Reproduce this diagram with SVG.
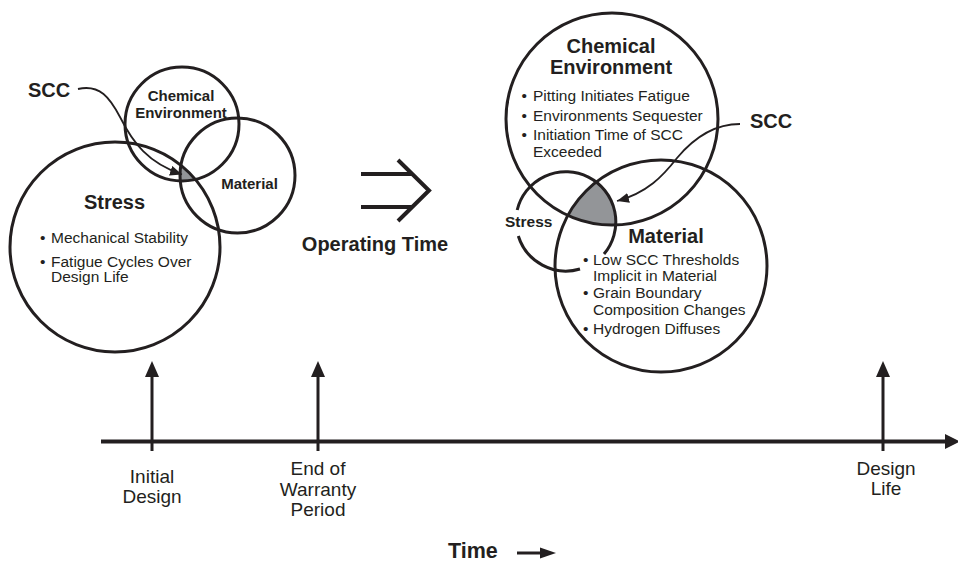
<svg xmlns="http://www.w3.org/2000/svg" width="958" height="563" viewBox="0 0 958 563">
<style>
  .c { fill: none; stroke: #231f20; stroke-width: 3; }
  .t { font-family: "Liberation Sans", Arial, Helvetica, sans-serif; fill: #231f20; }
  .b { font-weight: bold; }
  .m { text-anchor: middle; }
  .sh { fill: #939598; }
  .ln { stroke: #231f20; fill: none; }
  .ah { fill: #231f20; }
</style>
<defs>
  <marker id="sccHead" markerUnits="userSpaceOnUse" markerWidth="14" markerHeight="10" refX="12" refY="5" orient="auto">
    <path d="M0,0 L12,5 L0,10 Z" fill="#231f20"/>
  </marker>
  <clipPath id="clipLChem"><circle cx="182" cy="124" r="57"/></clipPath>
  <clipPath id="clipLMat"><circle cx="237.5" cy="175.5" r="57.5"/></clipPath>
  <clipPath id="clipRChem"><circle cx="612" cy="119" r="106"/></clipPath>
  <clipPath id="clipRMat"><circle cx="661" cy="266" r="106"/></clipPath>
</defs>
<rect width="958" height="563" fill="#ffffff"/>

<!-- Left Venn -->
<g id="left-scc-region" clip-path="url(#clipLChem)">
  <circle class="sh" cx="115" cy="247" r="105" clip-path="url(#clipLMat)"/>
</g>
<g id="left-stress">
  <circle class="c" cx="115" cy="247" r="105"/>
  <text class="t b m" x="114.5" y="209" font-size="20">Stress</text>
  <text class="t" font-size="15.5"><tspan x="40" y="243">•</tspan><tspan x="51" y="243">Mechanical Stability</tspan></text>
  <text class="t" font-size="15.5"><tspan x="40" y="267">•</tspan><tspan x="51" y="267">Fatigue Cycles Over</tspan><tspan x="51" y="282">Design Life</tspan></text>
</g>
<g id="left-chemical">
  <circle class="c" cx="182" cy="124" r="57"/>
  <text class="t b m" x="181" y="101" font-size="15">Chemical</text>
  <text class="t b m" x="181" y="118" font-size="15">Environment</text>
</g>
<g id="left-material">
  <circle class="c" cx="237.5" cy="175.5" r="57.5"/>
  <text class="t b m" x="249.5" y="189" font-size="15">Material</text>
</g>
<g id="left-scc">
  <text class="t b" x="28" y="97" font-size="20">SCC</text>
</g>

<!-- Operating time -->
<g id="operating-time">
  <path class="ln" stroke-width="4" d="M361,174 L413,174 M361,207 L413,207"/>
  <path class="ln" stroke-width="4" d="M398,160 L429,190.5 L398,221"/>
  <text class="t b m" x="375" y="250.5" font-size="20">Operating Time</text>
</g>

<!-- Right Venn -->
<g id="right-scc-region" clip-path="url(#clipRChem)">
  <circle class="sh" cx="566" cy="221" r="50" clip-path="url(#clipRMat)"/>
</g>
<g id="right-chemical">
  <circle class="c" cx="612" cy="119" r="106"/>
  <text class="t b m" x="611" y="53" font-size="20">Chemical</text>
  <text class="t b m" x="611" y="74" font-size="20">Environment</text>
  <text class="t" font-size="15.5"><tspan x="521.5" y="101">•</tspan><tspan x="533" y="101">Pitting Initiates Fatigue</tspan></text>
  <text class="t" font-size="15.5"><tspan x="521.5" y="120.5">•</tspan><tspan x="533" y="120.5">Environments Sequester</tspan></text>
  <text class="t" font-size="15.5"><tspan x="521.5" y="140">•</tspan><tspan x="533" y="140">Initiation Time of SCC</tspan><tspan x="533" y="156.5">Exceeded</tspan></text>
</g>
<g id="right-stress">
  <path class="c" d="M518.3,236 A50,50 0 0 0 580,269 M604,254 A50,50 0 1 0 517.2,210"/>
  <text class="t b" x="505" y="227" font-size="15.5">Stress</text>
</g>
<g id="right-material">
  <circle class="c" cx="661" cy="266" r="106"/>
  <text class="t b m" x="666" y="243" font-size="20">Material</text>
  <text class="t" font-size="15.5"><tspan x="583" y="265">•</tspan><tspan x="593" y="265">Low SCC Thresholds</tspan><tspan x="593" y="280.5">Implicit in Material</tspan></text>
  <text class="t" font-size="15.5"><tspan x="583" y="298">•</tspan><tspan x="593" y="298">Grain Boundary</tspan><tspan x="593" y="314.5">Composition Changes</tspan></text>
  <text class="t" font-size="15.5"><tspan x="583" y="333.5">•</tspan><tspan x="593" y="333.5">Hydrogen Diffuses</tspan></text>
</g>
<g id="right-scc">
  <text class="t b" x="750" y="128" font-size="20">SCC</text>
</g>

<!-- Timeline labels -->
<g id="tick-initial-design">
  <text class="t m" font-size="19"><tspan x="152" y="483">Initial</tspan><tspan x="152" y="503">Design</tspan></text>
</g>
<g id="tick-end-warranty">
  <text class="t m" font-size="19"><tspan x="318" y="475">End of</tspan><tspan x="318" y="496">Warranty</tspan><tspan x="318" y="516">Period</tspan></text>
</g>
<g id="tick-design-life">
  <text class="t m" font-size="19"><tspan x="886" y="475">Design</tspan><tspan x="886" y="495">Life</tspan></text>
</g>
<g id="time-label">
  <text class="t b" x="448" y="558" font-size="21.5">Time</text>
  <path class="ln" stroke-width="3" d="M517,553 L542,553"/>
  <path class="ah" d="M540,547.5 L556,553 L540,558.5 Z"/>
</g>

<!-- Connectors -->
<g id="connectors">
  <path class="ln" stroke-width="1.8" d="M78,89 C100,84 110,98 120,117 C133,143 148,163 182,174.5" marker-end="url(#sccHead)"/>
  <path class="ln" stroke-width="1.8" d="M740,124 C712,124 692,140 677,158 C663,176 647,193 617,201" marker-end="url(#sccHead)"/>
  <path class="ln" stroke-width="4" d="M101,441.5 L947,441.5"/>
  <path class="ah" d="M945,434 L960,441.5 L945,449 Z"/>
  <path class="ln" stroke-width="3" d="M152,451 L152,375"/>
  <path class="ah" d="M145,377 L152,361 L159,377 Z"/>
  <path class="ln" stroke-width="3" d="M318,451 L318,375"/>
  <path class="ah" d="M311,377 L318,361 L325,377 Z"/>
  <path class="ln" stroke-width="3" d="M883,451 L883,375"/>
  <path class="ah" d="M876,377 L883,361 L890,377 Z"/>
</g>
</svg>
